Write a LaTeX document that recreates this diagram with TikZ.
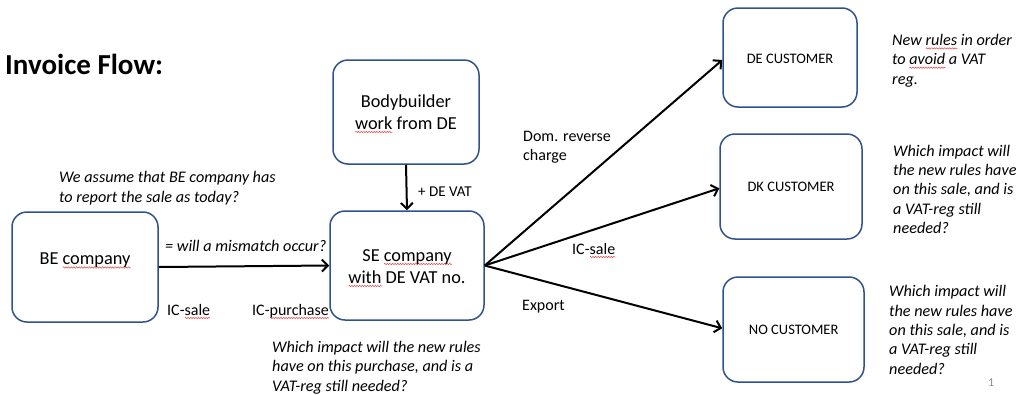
\documentclass[tikz,border=0pt]{standalone}
\usepackage{fontspec}
\setmainfont{Carlito}
\usetikzlibrary{arrows.meta,decorations.pathmorphing}
\definecolor{boxblue}{RGB}{47,82,143}
\definecolor{pagegray}{RGB}{140,140,140}
\definecolor{spellred}{RGB}{230,70,70}
\newsavebox\splbox
\newcommand\spl[1]{\sbox\splbox{#1}\makebox[0pt][l]{\raisebox{-3pt}{\tikz[baseline=0pt,x=1pt,y=1pt]\draw[spellred,line width=0.5pt,decorate,decoration={zigzag,segment length=2.6pt,amplitude=0.7pt}] (0,0) -- (\wd\splbox,0);}}\usebox\splbox}
\begin{document}
\begin{tikzpicture}[x=1pt,y=-1pt,
  box/.style={draw=boxblue,line width=1.5pt,rounded corners=15pt,inner sep=0pt},
  flow/.style={line width=2pt,-{Straight Barb[length=6pt,width=12pt,line width=2pt]}},
  note/.style={font=\fontsize{16.2}{19.3}\selectfont\itshape,align=left,anchor=base west,inner sep=0pt},
  lab/.style={font=\fontsize{16}{19}\selectfont,align=left,anchor=base west,inner sep=0pt},
  boxtext/.style={font=\fontsize{18.3}{22}\selectfont,align=center,anchor=base,inner sep=0pt},
  custtext/.style={font=\fontsize{14.5}{17}\selectfont,anchor=base,inner sep=0pt},
]
\useasboundingbox (0,0) rectangle (1017,394);

% title
\node[font=\fontsize{29}{34}\selectfont\bfseries,anchor=base west,inner sep=0pt] (title) at (5,74) {Invoice Flow:};

% boxes
\node[box,minimum width=146pt,minimum height=110pt] (BE) at (85,267) {};
\node[box,minimum width=154pt,minimum height=109pt] (SE) at (407,265.5) {};
\node[box,minimum width=146pt,minimum height=104pt] (BB) at (406,112) {};
\node[box,minimum width=134pt,minimum height=99pt] (DE) at (790,57.5) {};
\node[box,minimum width=142pt,minimum height=105pt] (DK) at (791,186.5) {};
\node[box,minimum width=141pt,minimum height=105pt] (NO) at (793.5,329.5) {};

% box texts (base anchor = baseline of the last line)
\node[boxtext] (BEt) at (85,264.5) {BE \spl{company}};
\node[boxtext] (SEt) at (407,283) {SE \spl{company}\\\spl{with} DE VAT no.};
\node[boxtext] (BBt) at (406,129) {Bodybuilder\\\spl{work} from DE};
\node[custtext] (DEt) at (790,63.3) {DE CUSTOMER};
\node[custtext] (DKt) at (791,191.7) {DK CUSTOMER};
\node[custtext] (NOt) at (793.7,334) {NO CUSTOMER};

% connectors
\draw[flow] (BE.east) -- (SE.west);
\draw[flow] (BB.south) -- (SE.north);
\draw[flow] (SE.east) -- ([yshift=-2.5pt]DE.west);
\draw[flow] (SE.east) -- ([yshift=-1.8pt]DK.west);
\draw[flow] (SE.east) -- ([yshift=1.2pt]NO.west);

% labels
\node[lab] (l1) at (167,315) {IC-\spl{sale}};
\node[lab] (l2) at (252,315) {IC-\spl{purchase}};
\node[lab,font=\fontsize{15}{18}\selectfont] (l3) at (418,196) {+ DE VAT};
\node[lab] (l4) at (523,160.7) {Dom. reverse\\charge};
\node[lab] (l5) at (572,254) {IC-\spl{sale}};
\node[lab] (l6) at (522,310.7) {Export};

% notes
\node[note] (n1) at (59,202) {We assume that BE company has\\to report the sale as today?};
\node[note] (n2) at (165,251.5) {= will a mismatch occur?};
\node[note] (n3) at (272,391) {Which impact will the new rules\\have on this purchase, and is a\\VAT-reg still needed?};
\node[note] (n4) at (892,84) {New \spl{rules} in order\\to \spl{avoid} a VAT\\reg.};
\node[note] (n5) at (893,233.3) {Which impact will\\the new rules have\\on this sale, and is\\a VAT-reg still\\needed?};
\node[note] (n6) at (889,374) {Which impact will\\the new rules have\\on this sale, and is\\a VAT-reg still\\needed?};

% page number
\node[font=\fontsize{12}{14}\selectfont,text=pagegray,anchor=base west,inner sep=0pt] (pg) at (988,386.7) {1};
\end{tikzpicture}
\end{document}
